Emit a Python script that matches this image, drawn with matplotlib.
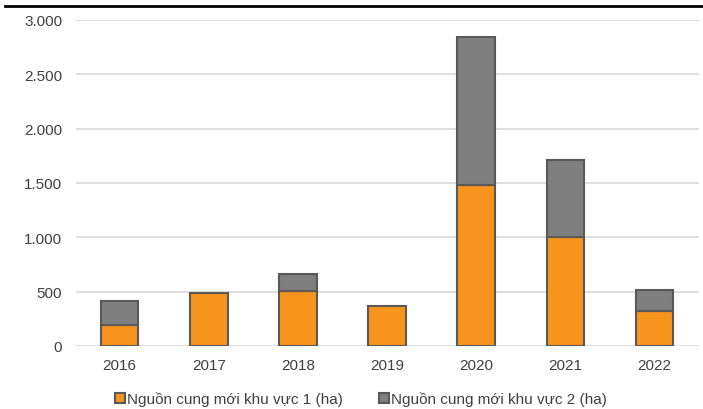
import numpy as np
import matplotlib.pyplot as plt
from matplotlib.lines import Line2D
from matplotlib.ticker import FuncFormatter

plt.rcParams['font.family'] = ['Liberation Sans', 'DejaVu Sans']

# du lieu
nam = ['2016', '2017', '2018', '2019', '2020', '2021', '2022']
khu_vuc_1 = [195, 490, 510, 370, 1480, 1000, 325]
khu_vuc_2 = [220, 0, 150, 0, 1360, 710, 190]
ten_1 = 'Nguồn cung mới khu vực 1 (ha)'
ten_2 = 'Nguồn cung mới khu vực 2 (ha)'

cam = '#F7941D'
xam = '#7F7F7F'
vien = '#595959'
chu = '#404040'

fig = plt.figure(figsize=(7.03, 4.10), dpi=100)
ax = fig.add_axes([76/703, 1-347/410, 623/703, 326/410])

x = np.arange(len(nam))
w = 0.42
ax.bar(x, khu_vuc_1, w, color=cam, edgecolor=vien, linewidth=1.5, zorder=3, label=ten_1)
# chi ve phan 2 khi co gia tri
k2 = np.array(khu_vuc_2)
m = k2 > 0
ax.bar(x[m], k2[m], w, bottom=np.array(khu_vuc_1)[m], color=xam, edgecolor=vien,
       linewidth=1.5, zorder=3, label=ten_2)

ax.set_xlim(-0.49, 6.5)
ax.set_ylim(0, 3000)
ax.set_yticks(range(0, 3001, 500))
ax.yaxis.set_major_formatter(FuncFormatter(lambda v, p: f'{int(v):,}'.replace(',', '.')))
ax.set_xticks(x)
ax.set_xticklabels(nam)
ax.grid(axis='y', color='#D9D9D9', linewidth=1.2, zorder=0)
for s in ax.spines.values():
    s.set_visible(False)
ax.tick_params(length=0, labelsize=11, colors=chu)
ax.tick_params(axis='y', pad=10)
ax.tick_params(axis='x', pad=9)

fig.legend(loc='center', bbox_to_anchor=(361/703, 1-400/410), ncol=2, frameon=False,
           fontsize=11, labelcolor=chu, handlelength=0.6, handleheight=0.6,
           handletextpad=0.15, columnspacing=2.4)

# duong ke phia tren
fig.add_artist(Line2D([5/703, 1], [1-7/410, 1-7/410], color='black', linewidth=2))

fig.savefig('out.png', dpi=100)
